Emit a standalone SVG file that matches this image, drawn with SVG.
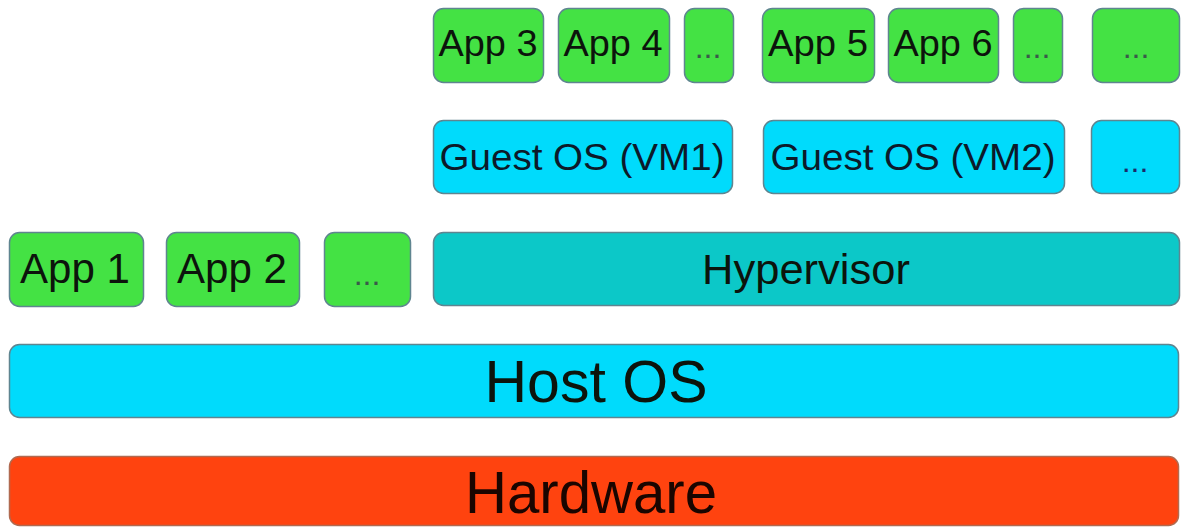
<svg xmlns="http://www.w3.org/2000/svg" width="1187" height="527" viewBox="0 0 1187 527">
  <style>
    .box { stroke: #5f8590; stroke-width: 1.5; }
    .app { fill: #44e244; }
    .guest { fill: #00dbfc; }
    .hyper { fill: #0cc8c8; }
    .host { fill: #00dbfc; }
    .hw { fill: #ff430f; stroke: #b06a50; }
    text { font-family: "Liberation Sans", Arial, sans-serif; fill: #0c140c; text-anchor: middle; }
    .s { font-size: 37px; }
    .m { font-size: 43px; }
    .l { font-size: 60px; }
    .dots { font-size: 32px; fill: #3a5a4a; }
  </style>
  <rect width="1187" height="527" fill="#ffffff"/>

  <!-- top row: applications inside the virtual machines -->
  <g id="app3"><rect class="box app" x="433.5" y="8.5" width="110" height="74" rx="10"/><text class="s" x="488" y="56" textLength="99" lengthAdjust="spacingAndGlyphs">App 3</text></g>
  <g id="app4"><rect class="box app" x="558.5" y="8.5" width="111" height="74" rx="10"/><text class="s" x="613" y="56" textLength="99" lengthAdjust="spacingAndGlyphs">App 4</text></g>
  <g id="app-vm1-more"><rect class="box app" x="684.5" y="8.5" width="49" height="74" rx="10"/><text class="dots" x="708" y="58">...</text></g>
  <g id="app5"><rect class="box app" x="762.5" y="8.5" width="112" height="74" rx="10"/><text class="s" x="818" y="56" textLength="100" lengthAdjust="spacingAndGlyphs">App 5</text></g>
  <g id="app6"><rect class="box app" x="888.5" y="8.5" width="110" height="74" rx="10"/><text class="s" x="943" y="56" textLength="99" lengthAdjust="spacingAndGlyphs">App 6</text></g>
  <g id="app-vm2-more"><rect class="box app" x="1013.5" y="8.5" width="49" height="74" rx="10"/><text class="dots" x="1037" y="58">...</text></g>
  <g id="app-more"><rect class="box app" x="1092.5" y="8.5" width="87" height="74" rx="10"/><text class="dots" x="1136" y="58">...</text></g>

  <!-- guest operating systems -->
  <g id="guest-vm1"><rect class="box guest" x="433.5" y="120.5" width="299" height="73" rx="10"/><text class="s" x="582" y="170" textLength="285" lengthAdjust="spacingAndGlyphs" style="fill:#0c1a2a">Guest OS (VM1)</text></g>
  <g id="guest-vm2"><rect class="box guest" x="763.5" y="120.5" width="301" height="73" rx="10"/><text class="s" x="913" y="170" textLength="285" lengthAdjust="spacingAndGlyphs" style="fill:#0c1a2a">Guest OS (VM2)</text></g>
  <g id="guest-more"><rect class="box guest" x="1091.5" y="120.5" width="88" height="73" rx="10"/><text class="dots" x="1135" y="172" style="fill:#1a2a6a">...</text></g>

  <!-- host applications and hypervisor -->
  <g id="app1"><rect class="box app" x="9.5" y="232.5" width="134" height="74" rx="10"/><text class="m" x="75" y="283" textLength="110" lengthAdjust="spacingAndGlyphs">App 1</text></g>
  <g id="app2"><rect class="box app" x="166.5" y="232.5" width="133" height="74" rx="10"/><text class="m" x="232" y="283" textLength="110" lengthAdjust="spacingAndGlyphs">App 2</text></g>
  <g id="app-host-more"><rect class="box app" x="324.5" y="232.5" width="86" height="74" rx="10"/><text class="dots" x="367" y="285">...</text></g>
  <g id="hypervisor"><rect class="box hyper" x="433.5" y="232.5" width="746" height="73" rx="10"/><text class="m" x="806" y="284" textLength="208" lengthAdjust="spacingAndGlyphs">Hypervisor</text></g>

  <!-- host OS and hardware layers -->
  <g id="host-os"><rect class="box host" x="9.5" y="344.5" width="1169" height="73" rx="10"/><text class="l" x="596" y="402" textLength="223" lengthAdjust="spacingAndGlyphs">Host OS</text></g>
  <g id="hardware"><rect class="box hw" x="9.5" y="456.5" width="1169" height="69" rx="10"/><text class="l" x="591" y="513" textLength="252" lengthAdjust="spacingAndGlyphs" style="fill:#1a0500">Hardware</text></g>

  <g id="connectors"/>
</svg>
